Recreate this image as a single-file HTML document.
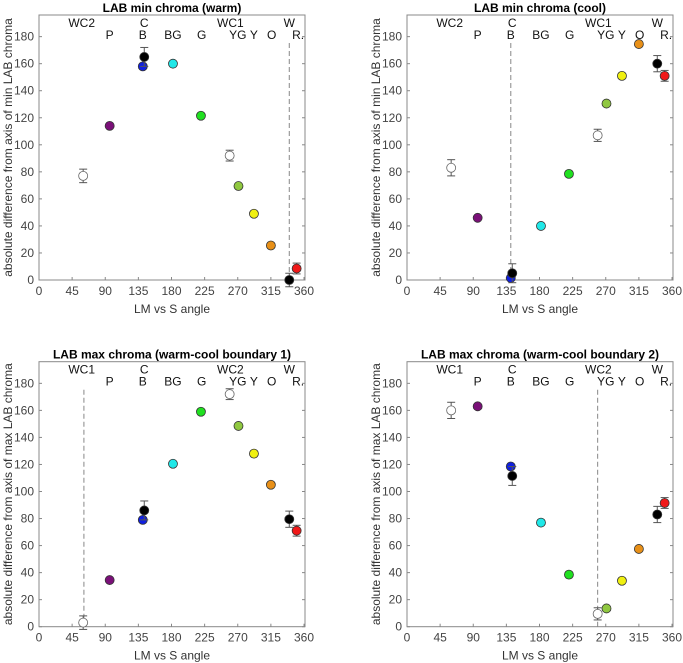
<!DOCTYPE html>
<html><head><meta charset="utf-8"><style>
html,body{margin:0;padding:0;background:#fff;}
svg{display:block;font-family:"Liberation Sans",sans-serif;}
</style></head><body>
<svg id="fig" width="683" height="663" viewBox="0 0 683 663"></svg>
<script>
const categories = ["WCa","P","B","C","BG","G","WCb","YG","Y","O","W","R"];
const angles = [60,96,141,143,182,220,259,271,292,315,340,350];
const minWarm = [77,114,158,165,160,121.5,92,69.5,49,25.5,0,8.5];
const minWarmErr = [5,1,1,7,1,1,4,1,1,1,5,4];
const minCool = [83,46,1.5,5,40,78.5,107,130.5,151,174.5,160,151];
const minCoolErr = [6,1,1,7,1,1,4.5,1,1,1,6,4];
const maxB1 = [3,34.5,79,86,120.5,159,172,148.5,128,105,79.5,71];
const maxB1Err = [5,1,1,7,1,1,4,1,1,1,6,4];
const maxB2 = [160,163,118.5,111.5,77,38.5,9.5,13.5,34,57.5,83,91.5];
const maxB2Err = [6,1,1,7,1,1,4.5,1,1,1,6,4];
const xTicks = [0,45,90,135,180,225,270,315,360];
const yTicks = [0,20,40,60,80,100,120,140,160,180];
const colors = ["#fff","#7a1078","#1020e0","#000","#20e8e8","#20e020","#fff","#90c840","#f0f010","#e89018","#000","#f01818"];

const panels = [
 {title:"LAB min chroma (warm)", ox:0, oy:0, vals:minWarm, errs:minWarmErr, dash:340, ylab:"absolute difference from axis of min LAB chroma", wcA:"WC2", wcB:"WC1", name:"panel-min-warm"},
 {title:"LAB min chroma (cool)", ox:368, oy:0, vals:minCool, errs:minCoolErr, dash:141, ylab:"absolute difference from axis of min LAB chroma", wcA:"WC2", wcB:"WC1", name:"panel-min-cool"},
 {title:"LAB max chroma (warm-cool boundary 1)", ox:0, oy:346.7, vals:maxB1, errs:maxB1Err, dash:61, ylab:"absolute difference from axis of max LAB chroma", wcA:"WC1", wcB:"WC2", name:"panel-max-b1"},
 {title:"LAB max chroma (warm-cool boundary 2)", ox:368, oy:346.7, vals:maxB2, errs:maxB2Err, dash:259, ylab:"absolute difference from axis of max LAB chroma", wcA:"WC1", wcB:"WC2", name:"panel-max-b2"}
];
const NS="http://www.w3.org/2000/svg";
const svg=document.getElementById('fig');
function mk(tag,attrs,parent,text){const e=document.createElementNS(NS,tag);for(const k in attrs)e.setAttribute(k,attrs[k]);if(text!==undefined)e.textContent=text;parent.appendChild(e);return e;}

panels.forEach(p=>{
  const L=39+p.ox, R=305+p.ox, B=280+p.oy, T=15+p.oy;
  const X=v=>L+(v/360)*(304-39);
  const Y=v=>B-(v/20)*27.04;
  const g=mk('g',{},svg);
  
  
  const t=mk('text',{x:(L+R)/2,y:12+p.oy,'text-anchor':'middle','font-size':12,'font-weight':'bold',fill:'#000'},g,p.title);
  
  
  const box=mk('rect',{x:L,y:T,width:R-L,height:B-T,fill:'none',stroke:'#888','stroke-width':1},g);
  
  
  xTicks.forEach(v=>{
    mk('line',{x1:X(v),x2:X(v),y1:B,y2:B-3,stroke:'#888'},g);
    const tl=mk('text',{x:X(v),y:B+15,'text-anchor':'middle','font-size':12,fill:'#444'},g,String(v));
    
    
  });
  yTicks.forEach(v=>{
    mk('line',{x1:L,x2:L+3,y1:Y(v),y2:Y(v),stroke:'#888'},g);
    mk('line',{x1:R,x2:R-3,y1:Y(v),y2:Y(v),stroke:'#888'},g);
    const tl=mk('text',{x:L-5,y:Y(v)+4,'text-anchor':'end','font-size':12,fill:'#444'},g,String(v));
    
    
  });
  const xl=mk('text',{x:(L+R)/2,y:B+33,'text-anchor':'middle','font-size':12,fill:'#333'},g,"LM vs S angle");
  
  
  const yx=12+p.ox, yy=(T+B)/2;
  const yl=mk('text',{x:yx,y:yy,'text-anchor':'middle','font-size':12,fill:'#333',transform:`rotate(-90 ${yx} ${yy})`},g,p.ylab);
  
  
  // category labels
  const top=[[p.wcA,58],["C",143],[p.wcB,260],["W",340]];
  const low=[["P",96],["B",141],["BG",182],["G",221],["YG",270],["Y",292],["O",316],["R.",352]];
  top.forEach(([s,a])=>{const e=mk('text',{x:X(a),y:T+12,'text-anchor':'middle','font-size':12,fill:'#111'},g,s);
    });
  low.forEach(([s,a])=>{const e=mk('text',{x:X(a),y:T+24,'text-anchor':'middle','font-size':12,fill:'#111'},g,s);
    });
  const dl=mk('line',{x1:X(p.dash),x2:X(p.dash),y1:Y(0),y2:Y(176),stroke:'#888','stroke-dasharray':'5,3'},g);
  
  
  p.vals.forEach((v,i)=>{
    const cx=X(angles[i]), cy=Y(v), e=p.errs[i], ec=(colors[i]=="#000"||colors[i]=="#fff")?"#444":"#333";
    if(e>1.5){
      mk('line',{x1:cx,x2:cx,y1:Y(v-e),y2:Y(v+e),stroke:'#555'},g);
      mk('line',{x1:cx-4,x2:cx+4,y1:Y(v-e),y2:Y(v-e),stroke:'#555'},g);
      mk('line',{x1:cx-4,x2:cx+4,y1:Y(v+e),y2:Y(v+e),stroke:'#555'},g);
    }
    const c=mk('circle',{cx:cx,cy:cy,r:4.5,fill:colors[i],stroke:colors[i]=="#fff"?"#666":"#333",'stroke-width':0.8},g);
    
    
  });
});
</script>
</body></html>
